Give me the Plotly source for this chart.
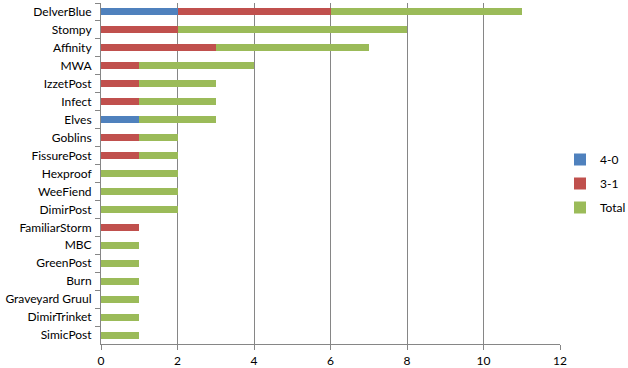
import plotly.graph_objects as go

categories = ["DelverBlue", "Stompy", "Affinity", "MWA", "IzzetPost", "Infect", "Elves",
              "Goblins", "FissurePost", "Hexproof", "WeeFiend", "DimirPost", "FamiliarStorm",
              "MBC", "GreenPost", "Burn", "Graveyard Gruul", "DimirTrinket", "SimicPost"]
s40 = [2, 0, 0, 0, 0, 0, 1, 0, 0, 0, 0, 0, 0, 0, 0, 0, 0, 0, 0]
s31 = [4, 2, 3, 1, 1, 1, 0, 1, 1, 0, 0, 0, 1, 0, 0, 0, 0, 0, 0]
total = [5, 6, 4, 3, 2, 2, 2, 1, 1, 2, 2, 2, 0, 1, 1, 1, 1, 1, 1]
x_ticks = [0, 2, 4, 6, 8, 10, 12]

font = dict(family="Lato, Open Sans, sans-serif", size=12, color="#000000")
grid = "#868686"

fig = go.Figure()
for name, vals, col, grp in [("4-0", s40, "#4F81BD", "a"), ("3-1", s31, "#C0504D", "b"),
                             ("Total", total, "#9BBB59", "c")]:
    fig.add_trace(go.Bar(y=categories, x=vals, name=name, orientation="h",
                         marker=dict(color=col, line=dict(width=0)), legendgroup=grp))

fig.update_layout(
    barmode="stack", bargap=0.61, width=628, height=368,
    margin=dict(l=101, r=68, t=3, b=24, autoexpand=False),
    paper_bgcolor="white", plot_bgcolor="white", font=font,
    legend=dict(x=560 / 628, xref="container", y=1 - 145 / 368, yref="container",
                yanchor="top", xanchor="left", traceorder="grouped", tracegroupgap=5,
                font=dict(size=12), itemwidth=30),
    xaxis=dict(range=[0, 12], tickvals=x_ticks, showgrid=True, gridcolor=grid, gridwidth=1,
               showline=True, linecolor=grid, linewidth=1, ticks="outside", ticklen=5,
               tickcolor=grid, zeroline=False, automargin=False, ticklabelstandoff=1),
    yaxis=dict(type="category", autorange="reversed", showline=True, linecolor=grid, linewidth=1,
               ticks="outside", ticklen=5, tickcolor=grid, tickson="boundaries",
               showgrid=False, ticklabelstandoff=6, automargin=False),
)
fig.write_html("out.html", config={"displayModeBar": False},
               post_script="document.body.style.margin='0';document.body.style.overflow='hidden';")
